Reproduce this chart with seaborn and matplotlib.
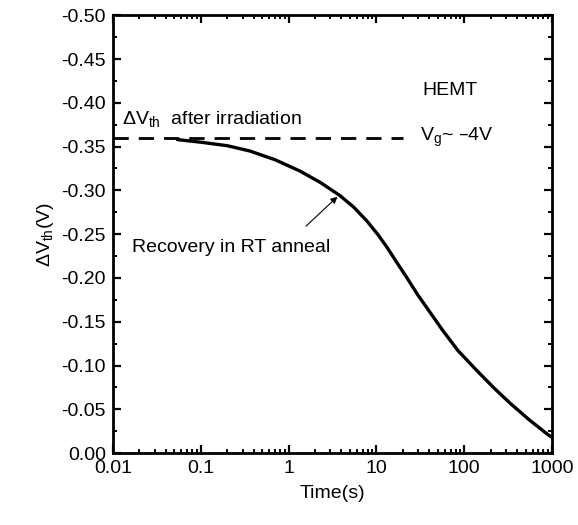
import numpy as np
import pandas as pd
import matplotlib
matplotlib.use('Agg')
import matplotlib.pyplot as plt
from matplotlib.ticker import FixedLocator, LogLocator, MultipleLocator, NullFormatter
import seaborn as sns

# ── Data ──────────────────────────────────────────────────────────────────────
time_s = [0.054, 0.1, 0.2, 0.36, 0.7, 1.35, 2.3, 3.85, 5.5, 7.8, 10.5, 13.2,
          17, 22, 29, 40, 57, 85, 140, 220, 333, 550, 900, 1000]
dvth = [-0.358, -0.355, -0.351, -0.345, -0.335, -0.322, -0.309, -0.294,
        -0.281, -0.265, -0.249, -0.235, -0.218, -0.201, -0.182, -0.162,
        -0.140, -0.117, -0.094, -0.074, -0.057, -0.038, -0.021, -0.018]

ref_time = [0.01, 20]
ref_dvth = [-0.36, -0.36]

x_ticks = [0.01, 0.1, 1, 10, 100, 1000]
x_labels = ['0.01', '0.1', '1', '10', '100', '1000']
y_ticks = [0.00, -0.05, -0.10, -0.15, -0.20, -0.25, -0.30, -0.35, -0.40, -0.45, -0.50]

# ── Style ─────────────────────────────────────────────────────────────────────
sns.set_theme(style='ticks')
plt.rcParams.update({
    'font.family': ['Liberation Sans', 'DejaVu Sans'],
    'font.size': 14,
    'text.color': 'black',
    'axes.labelcolor': 'black',
    'axes.unicode_minus': False,
    'mathtext.default': 'regular',
    'axes.linewidth': 2.0,
    'axes.edgecolor': 'black',
    'xtick.color': 'black',
    'ytick.color': 'black',
    'xtick.labelcolor': 'black',
    'ytick.labelcolor': 'black',
})

df = pd.DataFrame({'t': time_s, 'v': dvth})
ref = pd.DataFrame({'t': ref_time, 'v': ref_dvth})

fig = plt.figure(figsize=(5.78, 5.25), dpi=100)
ax = fig.add_axes([0.1955, 0.137, 0.7595, 0.834])

sns.lineplot(data=df, x='t', y='v', ax=ax, color='black', linewidth=2.4)
sns.lineplot(data=ref, x='t', y='v', ax=ax, color='black', linewidth=2.0,
             linestyle=(0, (5.5, 3.6)))

ax.set_xscale('log')
ax.set_xlim(0.01, 1000)
ax.set_ylim(0.0, -0.5)

ax.xaxis.set_major_locator(FixedLocator(x_ticks))
ax.set_xticklabels(x_labels, fontsize=14)
ax.xaxis.set_minor_locator(LogLocator(base=10, subs=np.arange(2, 10)))
ax.xaxis.set_minor_formatter(NullFormatter())
ax.yaxis.set_major_locator(FixedLocator(y_ticks))
ax.set_yticklabels([f'{v:.2f}' for v in y_ticks], fontsize=14)
ax.yaxis.set_minor_locator(MultipleLocator(0.025))

ax.tick_params(which='major', direction='in', length=6, width=1.6,
               top=True, right=True, labelsize=14, pad=5)
ax.tick_params(which='minor', direction='in', length=3, width=1.4,
               top=True, right=True)

ax.set_xlabel('Time(s)', fontsize=14, labelpad=6)
ax.set_ylabel(r'$\Delta$V$_{th}$(V)', fontsize=14, labelpad=4)

# ── Annotations ───────────────────────────────────────────────────────────────
ax.text(0.0125, -0.381, r'$\Delta$V$_{th}$  after irradiation', fontsize=14,
        va='center', ha='left')
ax.text(33, -0.414, 'HEMT', fontsize=14, va='center', ha='left')
ax.text(31, -0.360, 'V$_g$~ \u20134V', fontsize=14, va='center', ha='left')
ax.text(0.0165, -0.235, 'Recovery in RT anneal', fontsize=14,
        va='center', ha='left')
ax.annotate('', xy=(3.8, -0.295), xytext=(1.5, -0.257),
            arrowprops=dict(arrowstyle='-|>', color='black', lw=0.8,
                            mutation_scale=10))

for side in ['top', 'right', 'bottom', 'left']:
    ax.spines[side].set_visible(True)
    ax.spines[side].set_linewidth(2.0)

fig.savefig('out.png', dpi=100)
